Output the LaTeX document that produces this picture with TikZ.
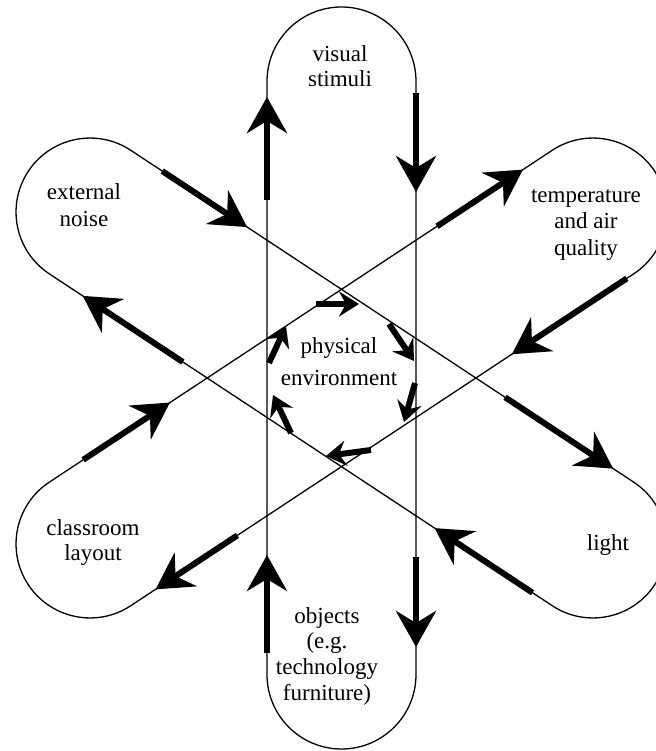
\documentclass[tikz,border=0pt]{standalone}
\usepackage{fontspec}
\setmainfont{Liberation Serif}
\usetikzlibrary{arrows.meta}
\begin{document}
\begin{tikzpicture}[x=1pt,y=-1pt,
  thinline/.style={line width=1.3pt},
  bigarrow/.style={line width=6pt, -{Stealth[length=36pt 0 0,width=40pt 0 0,inset=12pt 0 0]}},
  smallarrow/.style={line width=6pt, -{Stealth[length=20pt 0 0,width=25pt 0 0,inset=7pt 0 0]}},
  lbl/.style={font=\fontsize{23}{#1}\selectfont, inner sep=0pt, anchor=base},
  lbl/.default=26]
\useasboundingbox (0,0) rectangle (655,751);
\coordinate (C) at (341.5,378);

% vertical band
\draw[thinline, rounded corners=74.5pt] (267,7) rectangle (416,749);
\draw[bigarrow] (267,200) -- (267,97);
\draw[bigarrow] (416,93) -- (416,192);
\draw[bigarrow] (416,557) -- (416,647);
\draw[bigarrow] (267,653) -- (267,555);

% band external noise -- light
\begin{scope}[shift={(C)}, rotate=-33.42]
  \draw[thinline, rounded corners=74pt] (-375.3,-74) rectangle (375.3,74);
  \draw[bigarrow] (-263.6,-74) -- (-161.8,-74);
  \draw[bigarrow] (147.2,-74) -- (276.7,-74);
  \draw[bigarrow] (-141.3,74) -- (-261.3,74);
  \draw[bigarrow] (277.7,74) -- (160.4,74);
\end{scope}

% band temperature -- classroom layout
\begin{scope}[shift={(C)}, rotate=33.42]
  \draw[thinline, rounded corners=74pt] (-375.3,-74) rectangle (375.3,74);
  \draw[bigarrow] (163.3,-74) -- (266.3,-74);
  \draw[bigarrow] (-260.7,-74) -- (-156.7,-74);
  \draw[bigarrow] (293,74) -- (155.3,74);
  \draw[bigarrow] (-173.7,74) -- (-271.7,74);
\end{scope}

% central cycle
\draw[smallarrow] (316,304) -- (359,304);
\draw[smallarrow] (389,324) -- (414,361);
\draw[smallarrow] (415,383) -- (404,422);
\draw[smallarrow] (371,450) -- (326,456);
\draw[smallarrow] (291,433) -- (273,395);
\draw[smallarrow] (269,363) -- (286,326);

% labels
\node[lbl=24.5] (vis) at (340,62) {\begin{tabular}[t]{@{}c@{}}visual\\stimuli\end{tabular}};
\node[lbl=27] (noise) at (84,200) {\begin{tabular}[t]{@{}c@{}}external\\noise\end{tabular}};
\node[lbl=26] (temp) at (586,203) {\begin{tabular}[t]{@{}c@{}}temperature\\and air\\quality\end{tabular}};
\node[lbl=25] (layout) at (93,535) {\begin{tabular}[t]{@{}c@{}}classroom\\layout\end{tabular}};
\node[lbl] (light) at (608,550) {light};
\node[lbl=25.7] (obj) at (327,623) {\begin{tabular}[t]{@{}c@{}}objects\\(e.g.\\technology\\furniture)\end{tabular}};
\node[lbl=32] (phys) at (339,353) {\begin{tabular}[t]{@{}c@{}}physical\\environment\end{tabular}};
\end{tikzpicture}
\end{document}
